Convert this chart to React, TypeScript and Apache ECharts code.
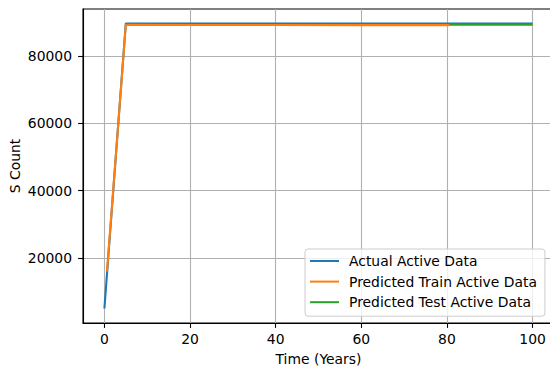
import React, { useEffect, useRef } from "react";
import * as echarts from "echarts";

// Actual active counts over time
const actualYears = [0, 5, 10, 15, 20, 25, 30, 35, 40, 45, 50, 55, 60, 65, 70, 75, 80, 85, 90, 95, 100];
const actualValues = [5000, 89700, 89700, 89700, 89700, 89700, 89700, 89700, 89700, 89700, 89700, 89700, 89700, 89700, 89700, 89700, 89700, 89700, 89700, 89700, 89700];

// Model output on the training span
const trainYears = [0.6, 5, 20, 40, 60, 80.5];
const trainValues = [16000, 89300, 89250, 89220, 89200, 89200];

// Model output on the test span
const testYears = [80.5, 90, 100];
const testValues = [89320, 89330, 89350];

const xTicks = [0, 20, 40, 60, 80, 100];
const yTicks = [20000, 40000, 60000, 80000];

const FONT = "DejaVu Sans";
const FS = 13.9;

const pairs = (xs: number[], ys: number[]) => xs.map((x, i) => [x, ys[i]]);

export default function App() {
  const ref = useRef<HTMLDivElement>(null);

  useEffect(() => {
    if (!ref.current) return;
    const chart = echarts.init(ref.current, null, { renderer: "svg" });
    chart.setOption({
      animation: false,
      backgroundColor: "#ffffff",
      textStyle: { fontFamily: FONT },
      grid: {
        left: 83,
        top: 9,
        right: -4,
        bottom: 48,
        containLabel: false,
        outerBoundsMode: "none",
        show: true,
        borderColor: "#000",
        borderWidth: 1.1,
        backgroundColor: "transparent",
      },
      graphic: [
        {
          type: "text",
          x: 318.5,
          y: 358.5,
          style: {
            text: "Time (Years)",
            fontFamily: FONT,
            fontSize: FS,
            fill: "#000",
            align: "center",
            verticalAlign: "middle",
          },
        },
        {
          type: "text",
          x: 15,
          y: 166,
          rotation: Math.PI / 2,
          style: {
            text: "S Count",
            fontFamily: FONT,
            fontSize: FS,
            fill: "#000",
            align: "center",
            verticalAlign: "middle",
          },
        },
      ],
      xAxis: {
        type: "value",
        min: -5,
        max: 105,
        splitNumber: 5,
        axisLine: { show: true, onZero: false, lineStyle: { color: "#000", width: 1.1 } },
        axisTick: { show: true, customValues: xTicks, length: 4.9, lineStyle: { color: "#000", width: 1.1 } },
        axisLabel: {
          customValues: xTicks,
          margin: 9,
          fontFamily: FONT,
          fontSize: FS,
          color: "#000",
          formatter: (v: number) => (xTicks.includes(v) ? String(v) : ""),
        },
        splitLine: { show: true, lineStyle: { color: "#b0b0b0", width: 1.1 } },
      },
      yAxis: {
        type: "value",
        min: 680,
        max: 93990,
        splitNumber: 5,
        axisLine: { show: true, onZero: false, lineStyle: { color: "#000", width: 1.1 } },
        axisTick: { show: true, customValues: yTicks, length: 4.9, lineStyle: { color: "#000", width: 1.1 } },
        axisLabel: {
          customValues: yTicks,
          margin: 11,
          fontFamily: FONT,
          fontSize: FS,
          color: "#000",
          formatter: (v: number) => (yTicks.includes(v) ? String(v) : ""),
        },
        splitLine: { show: true, lineStyle: { color: "#b0b0b0", width: 1.1 } },
      },
      legend: {
        orient: "vertical",
        left: 305,
        top: 249,
        padding: [4, 8, 6, 5],
        itemGap: 4.6,
        itemWidth: 29,
        itemHeight: 2,
        icon: "rect",
        backgroundColor: "rgba(255,255,255,0.8)",
        borderColor: "#cccccc",
        borderWidth: 1,
        borderRadius: 3,
        textStyle: { fontFamily: FONT, fontSize: FS, color: "#000", lineHeight: 16, padding: [0, 0, 0, 5] },
        data: ["Actual Active Data", "Predicted Train Active Data", "Predicted Test Active Data"],
      },
      series: [
        {
          name: "Actual Active Data",
          type: "line",
          data: pairs(actualYears, actualValues),
          showSymbol: false,
          symbol: "none",
          color: "#1f77b4",
          lineStyle: { width: 2.1, color: "#1f77b4" },
          z: 2,
        },
        {
          name: "Predicted Train Active Data",
          type: "line",
          data: pairs(trainYears, trainValues),
          showSymbol: false,
          symbol: "none",
          color: "#ff7f0e",
          lineStyle: { width: 2.1, color: "#ff7f0e" },
          z: 3,
        },
        {
          name: "Predicted Test Active Data",
          type: "line",
          data: pairs(testYears, testValues),
          showSymbol: false,
          symbol: "none",
          color: "#2ca02c",
          lineStyle: { width: 2.1, color: "#2ca02c" },
          z: 4,
        },
      ],
    });
    return () => chart.dispose();
  }, []);

  return (
    <div style={{ position: "fixed", left: 0, top: 0, width: 550, height: 371, overflow: "hidden" }}>
      <div ref={ref} style={{ width: 550, height: 371 }} />
    </div>
  );
}
